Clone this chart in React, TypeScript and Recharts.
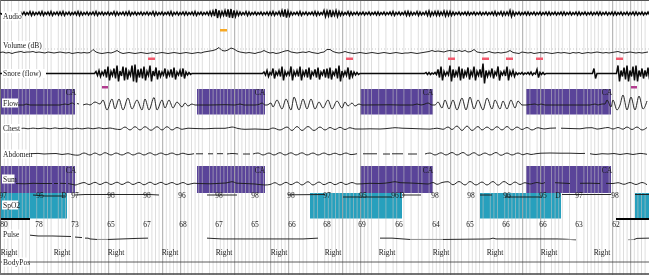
import {
  ComposedChart,
  Line,
  ReferenceArea,
  ReferenceLine,
  Scatter,
  XAxis,
  YAxis,
} from 'recharts'

const W = 649
const H = 277
const PLOT_H = 275
const STEP = 3 // spacing of the uniformly sampled channels

// scoring grid: one division per 3.6 samples, every fifth one is heavier
const heavyDiv = [20, 25, 30, 45, 50, 65, 75, 80, 95, 100, 125, 145, 150, 170, 175]
const lightDiv = [
  1, 2, 3, 5, 6, 7, 8, 10, 12, 13, 14, 16, 17, 18, 19, 21, 22, 23, 24, 26, 27, 28, 29, 32, 33, 35, 37,
  38, 39, 40, 41, 42, 43, 44, 46, 47, 48, 49, 51, 52, 53, 54, 55, 56, 58, 59, 60, 61, 62, 63, 64, 66,
  67, 68, 69, 70, 71, 72, 73, 74, 76, 77, 78, 79, 81, 83, 84, 85, 87, 88, 90, 91, 92, 93, 94, 96, 97,
  98, 99, 101, 102, 103, 105, 107, 109, 110, 112, 114, 116, 117, 119, 120, 121, 122, 123, 124, 126,
  127, 128, 130, 131, 132, 133, 134, 136, 137, 138, 140, 141, 142, 143, 144, 146, 147, 149, 151, 153,
  154, 155, 156, 158, 160, 162, 163, 164, 165, 166, 167, 169, 171, 172, 173, 174, 176, 177, 178, 179,
]

// half amplitude per sample, in half pixels
const audioAmp = [
  1, 1, 1, 1, 1, 1, 1, 2, 3, 2, 4, 3, 2, 3, 4, 2, 3, 4, 2, 3, 3, 4, 2, 3, 2, 3, 4, 3, 2, 3,
  2, 3, 4, 2, 3, 2, 3, 2, 4, 3, 2, 3, 3, 4, 2, 3, 2, 3, 2, 3, 2, 4, 3, 2, 3, 2, 3, 4, 2, 3,
  2, 3, 3, 2, 3, 4, 2, 3, 2, 3, 4, 5, 9, 6, 4, 6, 8, 9, 6, 4, 3, 2, 4, 3, 2, 3, 2, 3, 2, 3,
  3, 4, 2, 4, 6, 8, 5, 3, 2, 3, 4, 2, 3, 2, 3, 4, 3, 2, 6, 5, 7, 4, 6, 4, 3, 2, 4, 3, 2, 3,
  2, 3, 2, 3, 2, 3, 3, 2, 3, 2, 3, 4, 2, 3, 2, 4, 4, 3, 2, 4, 3, 2, 4, 5, 3, 4, 4, 3, 5, 4,
  4, 3, 2, 3, 2, 3, 3, 2, 3, 2, 3, 2, 3, 2, 3, 4, 2, 4, 3, 3, 6, 4, 2, 3, 2, 3, 3, 2, 3, 2,
  3, 2, 3, 3, 2, 3, 2, 3, 3, 2, 3, 2, 3, 3, 2, 3, 2, 3, 2, 3, 3, 2, 3, 2, 3, 3, 2, 3, 2, 3,
  2, 3, 3, 2, 3, 2, 3,
]
const snoreAmp = [
  0, 0, 0, 0, 0, 0, 0, 0, 0, 0, 0, 0, 0, 0, 0, 0, 0, 0, 0, 0, 0, 0, 0, 0, 0, 0, 0, 0, 0, 0,
  0, 0, 4, 6, 3, 8, 14, 4, 10, 16, 5, 14, 12, 4, 16, 18, 8, 10, 14, 4, 16, 5, 12, 6, 3, 10, 4, 8, 12, 3,
  6, 10, 3, 2, 0, 0, 0, 0, 0, 0, 0, 0, 0, 0, 0, 0, 0, 0, 0, 0, 0, 0, 0, 0, 0, 0, 0, 0, 3, 6,
  2, 10, 3, 6, 14, 4, 3, 14, 4, 6, 14, 4, 8, 12, 3, 8, 12, 3, 8, 10, 12, 3, 10, 16, 5, 4, 12, 6, 3, 2,
  0, 0, 0, 0, 0, 0, 0, 0, 0, 0, 0, 0, 0, 0, 0, 0, 0, 0, 0, 0, 0, 0, 2, 2, 1, 2, 8, 14, 4, 3,
  16, 8, 4, 14, 10, 4, 12, 4, 14, 4, 8, 20, 6, 4, 10, 3, 14, 3, 5, 14, 4, 6, 2, 1, 2, 1, 2, 3, 1, 8,
  2, 2, 0, 0, 0, 0, 0, 0, 0, 0, 0, 0, 0, 0, 0, 0, 0, 0, 10, 0, 0, 0, 0, 0, 0, 0, 16, 6, 12, 16,
  6, 14, 16, 6, 10, 6, 12,
]
// offset from the channel baseline per sample, in half pixels
const volumeLevel = [
  1, 2, 0, 1, -1, 1, 2, 3, 1, 2, 2, 3, 1, 2, 1, 0, 2, 1, 0, 1, 2, 1, 0, 1, -1, 0, 1, 0, 1, 0,
  1, 7, 2, 0, -1, 0, 1, 0, 2, 5, 1, -1, 0, 1, 0, -1, 0, 1, 0, -1, 0, 1, -1, 0, 1, 0, -1, 0, 1, 0,
  -1, 0, 1, 0, -1, 0, 1, 0, 2, 3, 4, 5, 7, 11, 5, 4, 6, 10, 8, 4, 2, 1, 0, 1, 0, -1, 1, 2, 5, 2,
  0, 1, -1, 0, 2, 4, 5, 2, 1, 0, 1, 2, 1, 3, 1, 0, -1, 1, 2, 7, 7, 3, 1, 0, 1, 3, 1, 0, -1, 0,
  1, 0, -1, 0, 1, 0, -1, 0, 1, 0, -1, 0, 1, 0, -1, 0, 0, 1, 0, -1, 0, 1, 2, 3, 5, 3, 4, 3, 2, 4,
  5, 4, 3, 5, 3, 5, 2, 3, 7, 2, 1, 0, 1, 3, 1, 0, 1, 0, 1, 2, 5, 1, 0, -1, 2, 1, 0, 1, -1, 0,
  1, 0, 1, 0, -1, 0, 1, 0, 1, 0, -1, 1, 0, 1, -1, 0, 1, 0, 1, 2, 1, 0, 1, 0, 1, 2, 3, 1, 0, 1,
  2, 1, 0, 1, 0, 1, 2,
]

// channels read at their turning points: sample position and offset in pixels, null = signal lost
const flowT = [
  16, 24, 26, 30, 40, 50, 60, 65, 68, 72, 75, 76, 77, 79, 80, 83, 87, 90, 95, 100, 103, 107, 112, 115, 119, 123,
  128, 132, 137, 142, 145, 149, 154, 157, 162, 165, 169, 173, 177, 182, 185, 188, 192, 195, 210, 225, 235, 240,
  244, 255, 260, 262, 265, 267, 271, 273, 277, 282, 286, 291, 294, 299, 303, 307, 311, 315, 319, 323, 328, 332,
  337, 342, 345, 348, 352, 355, 359, 362, 390, 400, 413, 417, 421, 425, 428, 432, 435, 438, 442, 445, 449, 453,
  457, 462, 466, 470, 474, 478, 483, 487, 492, 495, 500, 503, 507, 511, 515, 518, 522, 526, 535, 538, 541, 545,
  570, 590, 595, 598, 602, 605, 607, 611, 613, 617, 620, 623, 627, 631, 635, 639, 643, 647,
]
const flowV = [
  0, 0, 1, 0, 0, 0, 0, 1, 0.3, 2, 0.3, null, 1.5, 1, null, 0, 1, 0, 3, 1, 5, -5, 6, -4, 6, -5,
  7, -4, 5, -5, 6, -5, 7.5, -5, 5, -3, 5, -3, 3, -2, 2, -1, 1, 0, 0, 0.3, 0, 1,
  0, 0, 1, 2, 0, 0, 2, -2, 5, -4, 6, -5, 8, -5, 6, -4, 6, -4, 3, -3, 5, -4,
  4, -3, 3, -1, 2, -1, 1, 0, 0.2, 0, 0, 1, 0, 1, 2, 0, 0, 3, -3, 5, -4, 5,
  -5, 7, -5, 8, -4, 5, -5, 7, -4, 5, -4, 4, -4, 5, -3, 4, 0, 0, 1, 0, 1, 0,
  0, 0, 1, 0, 1, 1, 5, -2, 5, -5, 0, 10, -5, 8, -5, 9, -4, 4,
]
const chestT = [
  18, 24, 28, 33, 38, 44, 50, 55, 60, 66, 72, 77, 82, 88, 93, 99, 104, 110, 115, 120, 125, 130, 135, 140, 145, 151,
  157, 162, 167, 172, 177, 182, 188, 195, 205, 215, 225, 232, 238, 245, 255, 262, 268, 273, 280, 287, 292, 297, 302,
  308, 314, 320, 325, 330, 335, 340, 345, 350, 355, 362, 370, 380, 390, 395, 402, 412, 422, 430, 437, 443, 448, 452,
  457, 462, 467, 472, 478, 482, 487, 492, 497, 502, 507, 512, 517, 522, 527, 532, 538, 544, 550, 556, 558, 561, 570,
  580, 586, 592, 597, 603, 608, 613, 618, 623, 627, 632, 637, 642, 647,
]
const chestV = [
  0, 0.3, -0.3, 0.4, -0.2, 0.5, -0.3, 0.6, -0.2, 0.4, -0.6, 0.3, -0.4, 0.5, -0.3, 0.7, -0.3, 0.5, -0.5, -1, 1.5, -1.5, 1.8, -1.5, 1.8, -1.8,
  1.8, -1.5, 1.8, -1.5, 1, -0.8, 0.3, 0, -0.3, 0.2, 0.2, 1.5, 0, -0.8, -0.5, -0.8, -1, 0.5, -1.5, 1.5, -2, 2, -2,
  2, -2, 1.5, -1.5, 1, -1, 1.2, -1, 0.8, -0.5, -0.5, -0.3, -0.5, 0.3, 0.8, 0.3, 0, -0.4, -0.6, 0.3, -0.8, 1.5, -1,
  2.5, -2, 2.5, -2, 2, -1.5, 1.5, -1.5, 1.8, -1.5, 2, -1.5, 1.5, -1, 1, -1.5, 0.8, -0.5, 0.3, 0.5, null, 0.3, 0,
  -0.3, 0.6, 0.8, -0.6, 0.3, 1, -0.5, 1, -0.7, 1.5, -1, 1.5, -1.5, 1,
]
const abdomenT = [
  31, 38, 44, 50, 56, 62, 68, 73, 78, 84, 90, 95, 100, 105, 111, 116, 122, 128, 133, 139, 144, 150, 155, 161, 166, 172,
  177, 183, 188, 194, 195, 196, 203, 206, 208, 213, 215, 217, 223, 225, 227, 232, 238, 240, 243, 250, 252, 253, 258,
  263, 269, 274, 280, 285, 291, 296, 302, 307, 313, 318, 324, 329, 335, 340, 346, 351, 357, 362, 363, 377, 380, 383,
  390, 391, 392, 403, 405, 408, 417, 420, 425, 430, 435, 441, 446, 452, 457, 463, 468, 474, 479, 485, 490, 496, 501,
  507, 512, 518, 523, 527, 531, 536, 541, 550, 560, 570, 580, 585, 587, 590, 596, 602, 608, 614, 620, 627, 633, 640, 647,
]
const abdomenV = [
  0.3, 0.6, 0, 0.3, 0.5, -0.5, 0.3, -0.8, -1.2, 1, -1, 1, -1, 1.3, -1, 1, -1, 1.3, -1, 1, -1, 1.2, -1, 1, -0.8, 1,
  -0.8, 0.8, -0.5, 0.3, null, 0.2, 0.2, null, 0.2, 0.2, null, 0.3, 0.3, null, 0, 0.5, 0, null, 0, 0, null, 0, 1,
  -1, 1, -1, 1.3, -1, 1.2, -1, 1.2, -1, 1, -1, 1, -0.8, 0.8, -0.8, 1, -0.6, 0.3, null, 0.2, 0.2, null, 0,
  0, null, 0.2, 0.2, null, 0, 0, null, 0, 1, -1, 1.2, -1, 1.5, -1, 1.5, -1.3, 1.3, -1.3, 1, -1, 1.5, -1.3,
  1, -1, 1, -0.8, 0.5, -0.5, 0.3, 0.8, 1, 0.8, 0.8, 0.5, 0.6, null, 0.3, -0.5, 0.3, 0, 0.5, -0.5, 0.5, -0.5, 0.6, -0.3,
]
const sumT = [
  16, 25, 33, 40, 52, 53, 54, 58, 59, 60, 66, 67, 68, 73, 75, 80, 84, 89, 95, 100, 106, 111, 117, 122, 128, 133,
  139, 144, 150, 155, 161, 166, 172, 177, 183, 188, 194, 198, 210, 220, 226, 232, 237, 245, 255, 265, 270, 275, 280,
  286, 291, 297, 302, 308, 313, 319, 324, 330, 335, 341, 346, 352, 357, 362, 370, 380, 390, 395, 400, 410, 420, 428,
  433, 437, 442, 448, 453, 459, 465, 470, 476, 482, 487, 493, 498, 504, 510, 515, 520, 525, 530, 537, 542, 545, 550,
  555, 570, 577, 580, 590, 600, 604, 606, 611, 613, 618, 624, 630, 636, 642, 647,
]
const sumV = [
  0, -0.3, 0.2, 0, 0, null, 0, 0, null, 0.2, 0, null, 0, -1, -1.5, 0, 1, -1, 1.2, -1, 1.3, -1, 1.3, -1, 1.5, -1,
  1.2, -1.3, 1.3, -1, 1.2, -1, 1, -1, 1, -1, 0.3, 0, -0.3, 0.2, 0.5, 1.8, 0.3, 0, -0.5, -1.5, -1, 0.8, -1.5,
  1.2, -1.2, 1.5, -1.5, 1.8, -1.5, 1.5, -1.2, 1.2, -1.2, 1.2, -1, 1, -0.5, -0.3, 0.2, 0, 1, 1.8, 0.8, 0.5, 0, -0.5,
  1, -0.8, 1, 1.8, -1.3, 2, -1.5, 2, -1.5, 1.5, -1.5, 2, -1.7, 2, -1.3, 1.5, -1, 0.8, -0.5, 1, 0, 1, null,
  0.8, 0, null, 0.2, 0.3, 0, null, 0.2, 0, 0, 0.8, -0.8, 1, -1, 1, -1.2,
]

// trend channels, in their own units
const spo2T = [33, 45, 65, 66, 75, 85, 150, 159, 160, 207, 237, 238, 288, 325, 342, 343, 392, 393, 402, 421, 422, 480, 492, 493, 505, 542, 543, 562, 611, 612, 635, 649]
const spo2V = [97, 96, 96, null, 97, 97.5, 97.5, 97, null, 97, 97, null, 97.2, 97.5, null, 95, 95, null, 97, 97, null, 97, 97, null, 95, 95, null, 97.5, 97.5, null, 97.5, 97.5]
const pulseT = [30, 38, 52, 71, 72, 75, 82, 83, 85, 88, 90, 97, 108, 137, 148, 149, 207, 222, 303, 318, 319, 380, 392, 410, 443, 490, 493, 496, 558, 576, 577, 634, 637, 649]
const pulseV = [80, 77, 77, 75, null, 73, 71, null, 69, 69, 66, 64, 64, 68, 69, null, 69, 66, 66, 69, null, 69, 69, 64, 64, 66, 69, 66, 66, 63, null, 64, 68, 69]
const pulseGreyT = [38, 52, 53, 97, 108, 109, 410, 443, 444, 558, 576, 577, 628, 634]
const pulseGreyV = [77, 77, null, 64, 64, null, 64, 64, null, 66, 63, null, 63, 64]

// scored events, start and end position
const flowCA = [[1, 75], [197, 265], [360, 433], [526, 611]]
const spo2D = [[0, 67], [310, 402], [480, 561], [635, 649]]
const spo2Gap = [[0, 30], [616, 649]]
const snoreArousal = [[148, 155], [346, 353], [448, 455], [482, 489], [506, 513], [536, 543], [616, 623]]
const audioEvent = [[220, 227]]
const flowEvent = [[102, 108], [631, 637]]

const spo2Labels = ['97', '95', 'D', '97', '98', '98', '96', '98', '98', '98', '97', '95', '96', 'D', '98', '98', '96', '95', 'D', '97', '98']
const spo2LabelT = [3, 40, 64, 75, 111, 147, 182, 219, 255, 291, 327, 363, 395, 402, 435, 471, 507, 543, 558, 579, 615]
const pulseLabels = ['80', '78', '73', '65', '67', '68', '67', '65', '66', '68', '69', '66', '64', '65', '66', '66', '63', '62']
const pulseLabelT = [4, 39, 75, 111, 147, 183, 219, 255, 292, 327, 362, 399, 436, 470, 506, 543, 579, 616]
const posLabelT = [9, 62, 116, 170, 224, 279, 333, 387, 441, 495, 549, 602]
const caLabelT = [71, 260, 428, 607]

const channelNames = ['Audio', 'Volume (dB)', 'Snore (flow)', 'Flow', 'Chest', 'Abdomen', 'Sum', 'SpO2', 'Pulse', 'BodyPos']
const channelRow = [16, 45.5, 73.5, 103, 128.5, 154, 179, 205, 234, 262]

const PURPLE = '#5a4499'
const TEAL = '#27a0bd'
const INK = '#1c1c1c'
const TRACE = { dot: false, activeDot: false, isAnimationActive: false, stroke: INK, strokeWidth: 0.95, legendType: 'none' as const }
const BELOW_GRID = -200
const GRID = -150

// domain that puts value `ref` on pixel row `row`, with `k` pixels per unit
function band(row: number, k: number, ref = 0): [number, number] {
  return [ref + (row - PLOT_H) / k, ref + row / k]
}

const zip = (t: number[], v: (number | null)[]) => t.map((x, i) => ({ t: x, v: v[i] }))
const sampled = (v: number[]) => v.map((x, i) => ({ t: i * STEP, v: x }))
// fast signals: each sample swings up then down by its half amplitude
const swing = (v: number[]) =>
  v.flatMap((x, i) => [{ t: i * STEP, v: x }, { t: i * STEP + STEP / 2, v: -x }])
const row = (t: number[], y: number, text: (string | number)[] | string) =>
  t.map((x, i) => ({ t: x, y, text: typeof text === 'string' ? text : text[i] }))

const numberLabels = [
  ...row(spo2LabelT, 197.5, spo2Labels),
  ...row(pulseLabelT, 226.5, pulseLabels),
  ...row(posLabelT, 254.5, 'Right'),
  ...row(caLabelT, 95, 'CA'),
  ...row(caLabelT, 172.5, 'CA'),
]
const nameLabels = channelNames.map((text, i) => ({ t: 3, y: channelRow[i], text }))

function NumberLabel(p: any) {
  return (
    <text x={p.cx} y={p.cy} textAnchor="middle" fontFamily="Liberation Serif" fontSize={7.5} fill={INK}>
      {p.payload.text}
    </text>
  )
}

function NameLabel(p: any) {
  const w = String(p.payload.text).length * 3.5 + 2
  return (
    <g>
      <rect x={p.cx - 1} y={p.cy - 4.5} width={w} height={9} fill="#fff" />
      <text x={p.cx} y={p.cy + 2.5} fontFamily="Liberation Serif" fontSize={7.5} fill={INK}>
        {p.payload.text}
      </text>
    </g>
  )
}

const axes: [string, [number, number]][] = [
  ['page', [0, PLOT_H]],
  ['audio', band(13.5, 0.5)],
  ['volume', band(53, 0.5)],
  ['snore', band(73.5, 0.5)],
  ['flow', band(105, 1)],
  ['chest', band(128.5, 1)],
  ['abdomen', band(154, 1)],
  ['sum', band(183.5, 1)],
  ['spo2', band(195, 1, 97)],
  ['pulse', band(235.7, 0.27, 78)],
]

export default function App() {
  return (
    <div style={{ position: 'absolute', left: 0, top: 0, width: W, height: H, willChange: 'transform' }}>
      <ComposedChart width={W} height={H} margin={{ top: 0, right: 0, bottom: H - PLOT_H, left: 0 }}>
        <XAxis hide xAxisId={0} type="number" dataKey="t" domain={[0, W]} allowDataOverflow />
        {axes.map(([id, domain]) => (
          <YAxis
            key={id}
            hide
            yAxisId={id}
            type="number"
            dataKey={id === 'page' ? 'y' : undefined}
            domain={domain}
            reversed={id === 'page'}
            allowDataOverflow
          />
        ))}

        {flowCA.map(([a, b]) => (
          <ReferenceArea key={`f${a}`} zIndex={BELOW_GRID} yAxisId="page" x1={a} x2={b} y1={89} y2={114.5} fill={PURPLE} fillOpacity={1} stroke="none" />
        ))}
        {flowCA.map(([a, b]) => (
          <ReferenceArea key={`s${a}`} zIndex={BELOW_GRID} yAxisId="page" x1={a} x2={b} y1={166} y2={193} fill={PURPLE} fillOpacity={1} stroke="none" />
        ))}
        {spo2D.map(([a, b]) => (
          <ReferenceArea key={`d${a}`} zIndex={BELOW_GRID} yAxisId="page" x1={a} x2={b} y1={193} y2={218.5} fill={TEAL} fillOpacity={1} stroke="none" />
        ))}
        {snoreArousal.map(([a, b]) => (
          <ReferenceArea key={`r${a}`} yAxisId="page" x1={a} x2={b} y1={57.5} y2={60} fill="#f25a6e" fillOpacity={1} stroke="none" />
        ))}
        {audioEvent.map(([a, b]) => (
          <ReferenceArea key={`o${a}`} yAxisId="page" x1={a} x2={b} y1={29} y2={31.5} fill="#f7a823" fillOpacity={1} stroke="none" />
        ))}
        {flowEvent.map(([a, b]) => (
          <ReferenceArea key={`m${a}`} yAxisId="page" x1={a} x2={b} y1={86} y2={88.5} fill="#b23c8f" fillOpacity={1} stroke="none" />
        ))}
        {spo2Gap.map(([a, b]) => (
          <ReferenceArea key={`g${a}`} yAxisId="page" x1={a} x2={b} y1={218} y2={220} fill="#000" fillOpacity={1} stroke="none" />
        ))}

        {lightDiv.map(d => (
          <ReferenceLine key={`l${d}`} zIndex={GRID} yAxisId="page" x={d * 3.6 + 0.7} stroke="#c4c4c4" strokeOpacity={0.7} strokeWidth={0.8} />
        ))}
        {heavyDiv.map(d => (
          <ReferenceLine key={`h${d}`} zIndex={GRID} yAxisId="page" x={d * 3.6 + 0.7} stroke="#a8a8a8" strokeWidth={1} />
        ))}
        <ReferenceLine yAxisId="page" y={49} stroke="#b5b5b5" strokeWidth={0.7} strokeDasharray="1 2" />
        <ReferenceLine yAxisId="page" y={262} stroke="#333" strokeWidth={0.8} />
        <ReferenceLine yAxisId="page" y={0.5} stroke="#555" strokeWidth={1} />
        <ReferenceLine yAxisId="page" y={274} stroke="#444" strokeWidth={1.6} />
        <ReferenceLine yAxisId="page" x={0.5} stroke="#777" strokeWidth={1} />

        <Line yAxisId="audio" data={swing(audioAmp)} dataKey="v" type="linear" {...TRACE} stroke="#0a0a0a" strokeWidth={1.5} />
        <Line yAxisId="snore" data={swing(snoreAmp)} dataKey="v" type="linear" {...TRACE} stroke="#0a0a0a" strokeWidth={1.5} />
        <Line yAxisId="volume" data={sampled(volumeLevel)} dataKey="v" type="linear" {...TRACE} />
        <Line yAxisId="flow" data={zip(flowT, flowV)} dataKey="v" type="monotone" {...TRACE} />
        <Line yAxisId="chest" data={zip(chestT, chestV)} dataKey="v" type="monotone" {...TRACE} />
        <Line yAxisId="abdomen" data={zip(abdomenT, abdomenV)} dataKey="v" type="monotone" {...TRACE} />
        <Line yAxisId="sum" data={zip(sumT, sumV)} dataKey="v" type="monotone" {...TRACE} />
        <Line yAxisId="spo2" data={zip(spo2T, spo2V)} dataKey="v" type="linear" {...TRACE} />
        <Line yAxisId="pulse" data={zip(pulseT, pulseV)} dataKey="v" type="linear" {...TRACE} />
        <Line yAxisId="pulse" data={zip(pulseGreyT, pulseGreyV)} dataKey="v" type="linear" {...TRACE} stroke="#999" strokeWidth={1} />

        <Scatter yAxisId="page" data={numberLabels} dataKey="y" shape={NumberLabel} isAnimationActive={false} />
        <Scatter yAxisId="page" data={nameLabels} dataKey="y" shape={NameLabel} isAnimationActive={false} />
      </ComposedChart>
    </div>
  )
}
